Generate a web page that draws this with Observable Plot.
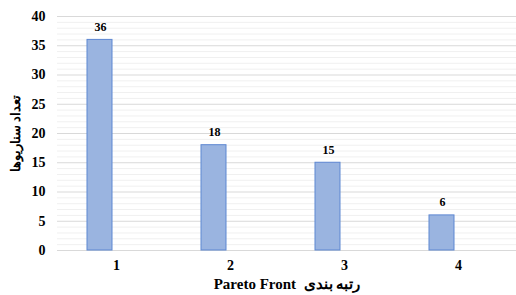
<!DOCTYPE html>
<html>
<head>
<meta charset="utf-8">
<script src="https://cdn.jsdelivr.net/npm/d3@7"></script>
<script src="https://cdn.jsdelivr.net/npm/@observablehq/plot@0.6"></script>
<style>
  html, body { margin: 0; padding: 0; background: #fff; }
  #chart { width: 516px; height: 295px; }
</style>
</head>
<body>
<div id="chart"></div>
<script>
const categories = ["1", "2", "3", "4"];
const values = [36, 18, 15, 6];
const yTicks = [0, 5, 10, 15, 20, 25, 30, 35, 40];
const xTitle = "Pareto Front  رتبه بندی";
const yTitle = "تعداد سناریوها";

const data = categories.map((c, i) => ({ cat: c, value: values[i] }));
const minorTicks = d3.range(0, 41).filter(v => v % 5 !== 0);

const font = "'Liberation Serif', 'Times New Roman', serif";

const chart = Plot.plot({
  width: 516,
  height: 295,
  marginLeft: 57,
  marginRight: 0,
  marginTop: 16,
  marginBottom: 45,
  style: { fontFamily: font, fontWeight: "bold", background: "#fff", color: "#000" },
  x: { type: "band", domain: categories, padding: 0, label: null },
  y: { domain: [0, 40], label: null },
  marks: [
    Plot.ruleY(minorTicks, { stroke: "#f0f0f0", strokeWidth: 1 }),
    Plot.ruleY(yTicks, { stroke: "#d9d9d9", strokeWidth: 1 }),
    Plot.barY(data, {
      x: "cat", y: "value",
      fill: "#9ab4e0", stroke: "#5d87d2", strokeWidth: 1,
      insetLeft: 28, insetRight: 61
    }),
    Plot.text(data, {
      x: "cat", y: "value",
      text: d => String(d.value),
      dx: -16, dy: -13,
      fontSize: 12, fontWeight: "bold", fontFamily: font, fill: "#000"
    }),
    Plot.axisY({
      ticks: yTicks, tickSize: 0, tickPadding: 12,
      fontSize: 14, fontWeight: "bold", fontFamily: font, label: null
    }),
    Plot.axisX({
      tickSize: 0, tickPadding: 10,
      fontSize: 14, fontWeight: "bold", fontFamily: font, label: null
    }),
    Plot.text([xTitle], {
      frameAnchor: "bottom", dy: 38,
      fontSize: 15, fontWeight: "bold", fontFamily: font, fill: "#000"
    }),
    Plot.text([yTitle], {
      frameAnchor: "left", textAnchor: "middle", dx: -42, rotate: -90,
      fontSize: 13, fontWeight: "bold", fontFamily: font, fill: "#000"
    })
  ]
});

document.getElementById("chart").appendChild(chart);
</script>
</body>
</html>
